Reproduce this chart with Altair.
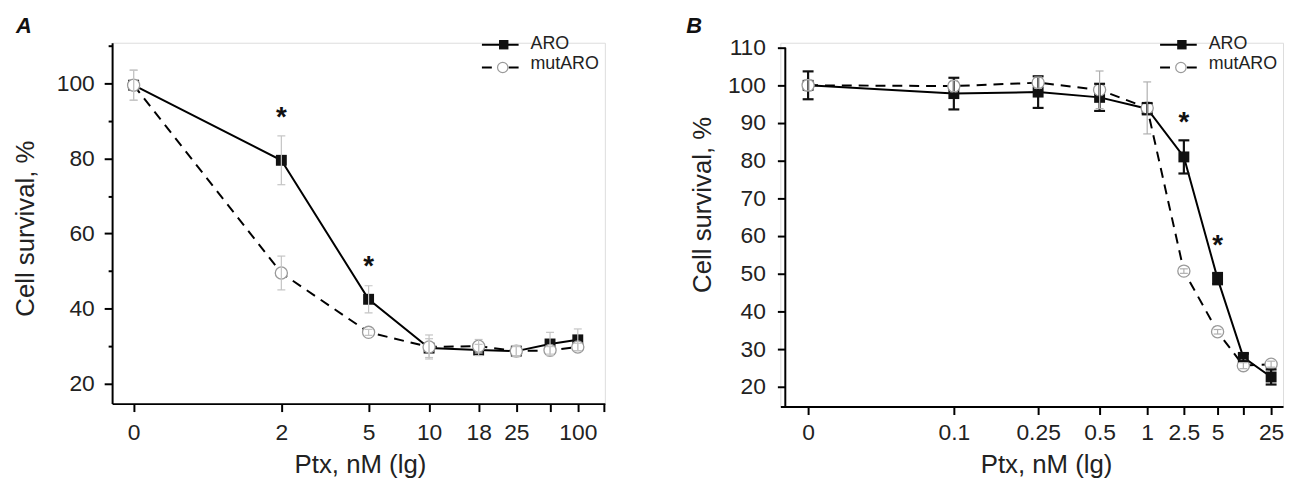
import altair as alt
import pandas as pd

FONT = "Liberation Sans"
TXT = "#222222"

# ---------------- Panel A data ----------------
a_pos = [0, 149, 237, 298, 348, 386, 420, 448]          # position on the lg axis
a_tick_labels = ["0", "2", "5", "10", "18", "25", "", "100"]
a_extra_ticks = [474]
a_aro = [99.5, 79.5, 42.5, 29.5, 29.0, 28.7, 30.6, 31.7]
a_aro_err = [4.0, 6.5, 3.6, 2.5, 1.5, 1.2, 3.1, 2.9]
a_mut = [99.5, 49.5, 33.7, 29.8, 30.0, 28.7, 28.9, 29.8]
a_mut_err = [4.0, 4.5, 0.8, 3.2, 1.8, 1.5, 1.0, 1.0]
a_star_x = [149, 237]
a_star_y = [92.6, 52.8]
a_yticks = [20, 30, 40, 50, 60, 70, 80, 90, 100, 110]

# ---------------- Panel B data ----------------
b_pos = [0, 147, 232, 294, 342, 379, 413, 439, 467]
b_tick_labels = ["0", "0.1", "0.25", "0.5", "1", "2.5", "5", "", "25"]
b_minor_ticks = [87, 195, 267, 320, 362, 397, 427, 455, 478]
b_aro = [100.0, 97.8, 98.2, 96.8, 93.8, 81.0, 48.7, 27.8, 22.6]
b_aro_err = [3.7, 4.2, 4.2, 3.6, 1.5, 4.4, 1.5, 1.0, 2.0]
b_mut = [100.0, 99.8, 100.7, 98.8, 94.0, 50.7, 34.6, 25.6, 26.0]
b_mut_err = [1.5, 1.5, 1.5, 5.0, 6.9, 0.6, 0.6, 0.8, 0.8]
b_star_x = [379, 413]
b_star_y = [91.9, 59.2]
b_yticks = [20, 25, 30, 35, 40, 45, 50, 55, 60, 65, 70, 75, 80, 85, 90, 95, 100, 105, 110]


def one():
    return pd.DataFrame({"k": [0]})


def panel(letter, pos, tick_labels, extra_ticks, major_ticks, aro, aro_err, mut, mut_err,
          star_x, star_y, yticks, ymajor, xdom, ydom, width, height,
          aro_err_color, aro_err_w, aro_cap, mut_err_color, mut_err_w, mut_cap,
          y_offset, y_label_pad, x_label_pad, x_title_x, x_title_y, y_title_x, y_title_y,
          draw_y_domain):
    aro_df = pd.DataFrame({"x": pos, "y": aro, "lo": [v - e for v, e in zip(aro, aro_err)],
                           "hi": [v + e for v, e in zip(aro, aro_err)]})
    mut_df = pd.DataFrame({"x": pos, "y": mut, "lo": [v - e for v, e in zip(mut, mut_err)],
                           "hi": [v + e for v, e in zip(mut, mut_err)]})
    star_df = pd.DataFrame({"x": star_x, "y": star_y})

    label_expr = (f"indexof({pos}, datum.value) >= 0 ? "
                  f"{tick_labels}[indexof({pos}, datum.value)] : ''")
    xvals = sorted(pos + extra_ticks)
    xaxis = alt.Axis(
        values=xvals, labelExpr=label_expr, title="Ptx, nM (lg)",
        grid=False, domainColor="black", domainWidth=2, tickColor="black", tickWidth=2,
        tickSize={"condition": {"test": f"indexof({major_ticks}, datum.value) < 0", "value": 4}, "value": 8},
        labelFont=FONT, labelFontSize=23, labelColor=TXT, labelPadding=x_label_pad,
        labelFlush=False, labelOverlap=False,
        titleFont=FONT, titleFontSize=26, titleFontWeight="normal", titleColor=TXT,
        titleX=x_title_x, titleY=x_title_y, titleBaseline="alphabetic",
    )
    yaxis = alt.Axis(
        values=yticks, labelExpr=f"datum.value % {ymajor} == 0 ? datum.label : ''",
        title="Cell survival, %", grid=False, domain=draw_y_domain,
        domainColor="black", domainWidth=2, tickColor="black", tickWidth=2,
        tickSize={"condition": {"test": f"datum.value % {ymajor} != 0", "value": 4}, "value": 8},
        labelFont=FONT, labelFontSize=23, labelColor=TXT, labelPadding=y_label_pad,
        labelOverlap=False, offset=y_offset,
        titleFont=FONT, titleFontSize=26, titleFontWeight="normal", titleColor=TXT,
        titleX=y_title_x, titleY=y_title_y, titleBaseline="alphabetic", titleAngle=270,
    )
    xs = alt.Scale(domain=xdom, nice=False, zero=False)
    ys = alt.Scale(domain=ydom, nice=False, zero=False)
    X = alt.X("x:Q", scale=xs, axis=xaxis)
    Y = alt.Y("y:Q", scale=ys, axis=yaxis)

    line_aro = alt.Chart(aro_df).mark_line(color="black", strokeWidth=2).encode(x=X, y=Y)
    line_mut = alt.Chart(mut_df).mark_line(color="black", strokeWidth=2, strokeDash=[10, 7]).encode(x=X, y=Y)
    squares = alt.Chart(aro_df).mark_point(shape="square", filled=True, size=121, color="#111111",
                                           opacity=1).encode(x=X, y=Y)
    circles = alt.Chart(mut_df).mark_point(shape="circle", filled=True, fill="white", stroke="#9a9a9a",
                                           strokeWidth=1.3, size=150, opacity=1).encode(x=X, y=Y)

    def errbars(df, color, w, cap):
        r = alt.Chart(df).mark_rule(color=color, strokeWidth=w).encode(
            x="x:Q", y="lo:Q", y2="hi:Q")
        t1 = alt.Chart(df).mark_tick(orient="horizontal", color=color, thickness=w, size=cap,
                                     opacity=1).encode(x="x:Q", y="lo:Q")
        t2 = alt.Chart(df).mark_tick(orient="horizontal", color=color, thickness=w, size=cap,
                                     opacity=1).encode(x="x:Q", y="hi:Q")
        return [r, t1, t2]

    stars = alt.Chart(star_df).mark_text(text="*", font=FONT, fontSize=28, fontWeight="bold",
                                         color="#111111", baseline="middle", dy=7).encode(
        x="x:Q", y="y:Q")

    lx0 = width - 124
    leg = [
        alt.Chart(one()).mark_rule(color="black", strokeWidth=2).encode(
            x=alt.value(lx0), x2=alt.value(lx0 + 37), y=alt.value(2)),
        alt.Chart(one()).mark_point(shape="square", filled=True, size=90, color="#111111", opacity=1).encode(
            x=alt.value(lx0 + 22), y=alt.value(2)),
        alt.Chart(one()).mark_rule(color="black", strokeWidth=2, strokeDash=[10, 17]).encode(
            x=alt.value(lx0), x2=alt.value(lx0 + 37), y=alt.value(25)),
        alt.Chart(one()).mark_point(shape="circle", filled=True, fill="white", stroke="#9a9a9a",
                                    strokeWidth=1.2, size=110, opacity=1).encode(
            x=alt.value(lx0 + 21), y=alt.value(25)),
        alt.Chart(one()).mark_text(text="ARO", font=FONT, fontSize=18, color=TXT, align="left",
                                   baseline="middle").encode(x=alt.value(lx0 + 49), y=alt.value(1.5)),
        alt.Chart(one()).mark_text(text="mutARO", font=FONT, fontSize=18, color=TXT, align="left",
                                   baseline="middle").encode(x=alt.value(lx0 + 49), y=alt.value(21.5)),
    ]
    letter_mark = alt.Chart(one()).mark_text(
        text=letter, font=FONT, fontSize=22, fontWeight="bold", fontStyle="italic", color="#111111",
        align="left", baseline="alphabetic").encode(
        x=alt.value(-97 if letter == "A" else -95), y=alt.value(-10))

    layers = [line_aro, line_mut, squares, circles]
    layers += errbars(aro_df, aro_err_color, aro_err_w, aro_cap)
    layers += errbars(mut_df, mut_err_color, mut_err_w, mut_cap)
    layers += [stars] + leg + [letter_mark]
    if not draw_y_domain:
        layers.append(alt.Chart(one()).mark_rule(color="black", strokeWidth=2).encode(
            x=alt.value(5), y=alt.value(5), y2=alt.value(height)))
    return alt.layer(*layers).properties(width=width, height=height)


chart_a = panel("A", a_pos, a_tick_labels, a_extra_ticks, a_pos + a_extra_ticks,
                a_aro, a_aro_err, a_mut, a_mut_err, a_star_x, a_star_y, a_yticks, 20,
                [-21.7, 475.3], [14.72, 110.8], 497, 364,
                "#c4c4c4", 1.2, 8, "#c4c4c4", 1.2, 8,
                0, 10, 10, 250, 69, -79, 187, True)

chart_b = panel("B", b_pos, b_tick_labels, b_minor_ticks, b_pos,
                b_aro, b_aro_err, b_mut, b_mut_err, b_star_x, b_star_y, b_yticks, 10,
                [-28, 479], [14.74, 111.3], 507, 367,
                "#111111", 2.2, 11, "#b0b0b0", 1.2, 8,
                -5, 12, 7, 268, 66, -75, 163, False)

chart = alt.hconcat(chart_a, chart_b, spacing=80).properties(
    padding={"left": 4, "top": 4, "right": 0, "bottom": 0}
).configure_view(stroke=None).configure(background="white")

chart.save("out.html", embed_options={"renderer": "svg", "actions": False})
